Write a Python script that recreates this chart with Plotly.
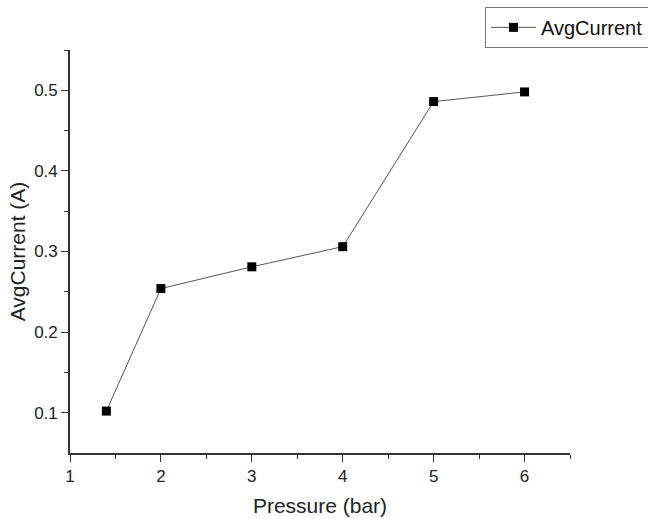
import plotly.graph_objects as go

pressure = [1.4, 2, 3, 4, 5, 6]
avg_current = [0.102, 0.254, 0.281, 0.306, 0.486, 0.498]
series_name = "AvgCurrent"
x_title = "Pressure (bar)"
y_title = "AvgCurrent (A)"

axis_color = "#333333"
font_family = "Liberation Sans, Arial, sans-serif"

fig = go.Figure()
fig.add_trace(go.Scatter(
    x=pressure, y=avg_current, name=series_name,
    mode="lines+markers",
    line=dict(color="#555555", width=1),
    marker=dict(symbol="square", size=9, color="black", line=dict(width=0)),
))

fig.update_layout(
    width=648, height=519,
    margin=dict(l=70, r=78, t=50, b=66, autoexpand=False),
    paper_bgcolor="white", plot_bgcolor="white",
    font=dict(family=font_family, color="#222222"),
    showlegend=True,
    legend=dict(
        x=0.83, y=1.107, xanchor="left", yanchor="top",
        bordercolor="#777777", borderwidth=1, bgcolor="white",
        font=dict(size=20, family=font_family, color="#111111"),
        itemwidth=45,
        tracegroupgap=0,
    ),
)

fig.update_xaxes(
    range=[1, 6.5], tickvals=[1, 2, 3, 4, 5, 6],
    showgrid=False, zeroline=False,
    showline=True, linecolor=axis_color, linewidth=1.6,
    ticks="outside", ticklen=7, tickwidth=1.4, tickcolor=axis_color,
    tickfont=dict(size=17),
    minor=dict(tickvals=[1.5, 2.5, 3.5, 4.5, 5.5, 6.5], ticks="outside",
               ticklen=4, tickwidth=1.4, tickcolor=axis_color),
    title=dict(text=x_title, font=dict(size=21), standoff=13),
)
fig.update_yaxes(
    range=[0.05, 0.55], tickvals=[0.1, 0.2, 0.3, 0.4, 0.5],
    ticktext=["0.1", "0.2", "0.3", "0.4", "0.5"],
    showgrid=False, zeroline=False,
    showline=True, linecolor=axis_color, linewidth=1.6,
    ticks="outside", ticklen=7, tickwidth=1.4, tickcolor=axis_color,
    tickfont=dict(size=17),
    minor=dict(tickvals=[0.15, 0.25, 0.35, 0.45, 0.55], ticks="outside",
               ticklen=4, tickwidth=1.4, tickcolor=axis_color),
    title=dict(text=y_title, font=dict(size=21), standoff=3),
)

fig.write_html("out.html")
